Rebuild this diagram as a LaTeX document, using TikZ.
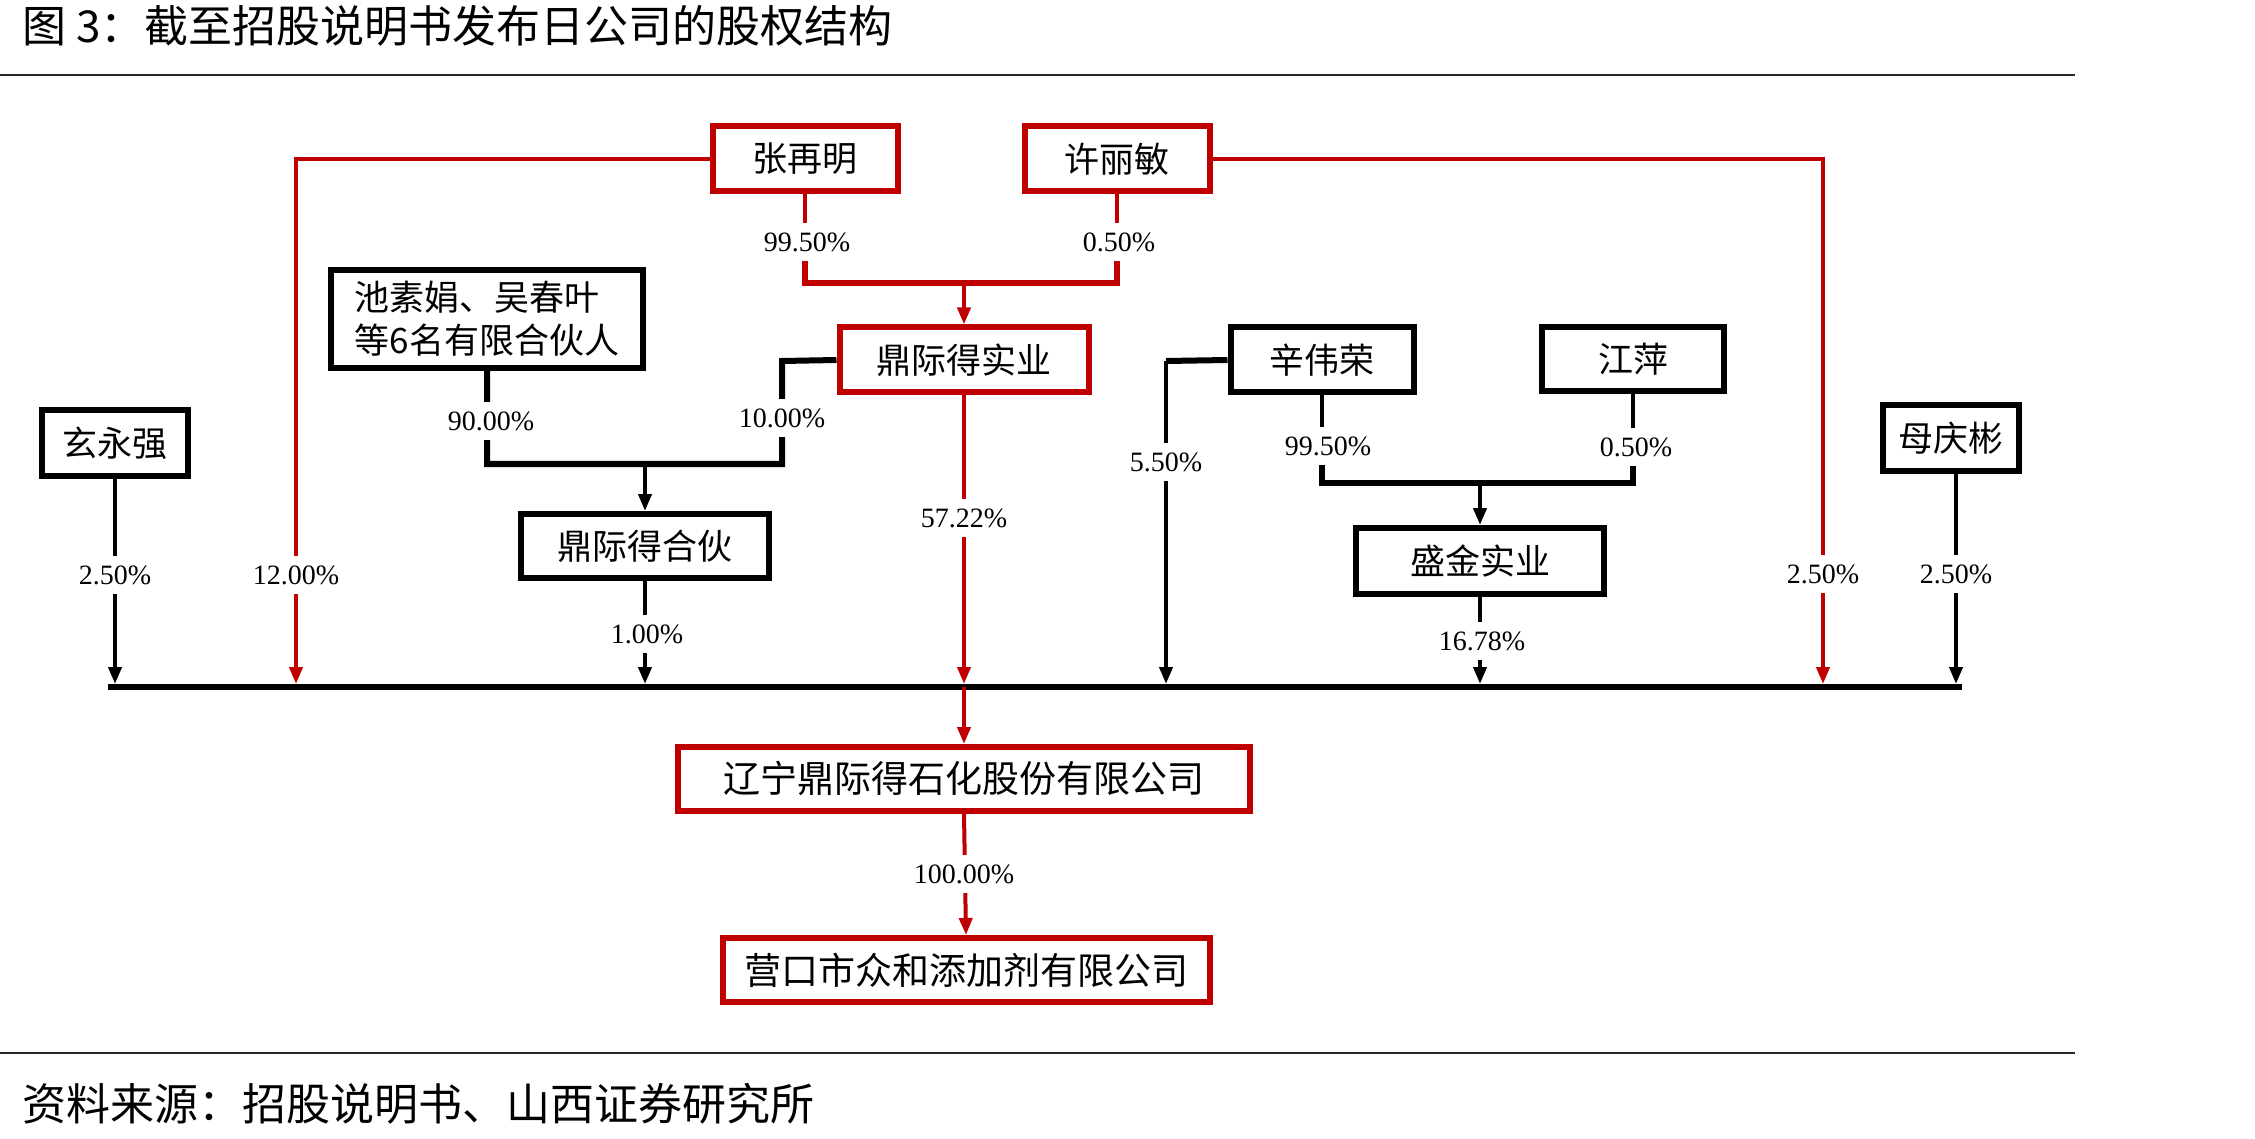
\documentclass[tikz,border=0pt]{standalone}
\usepackage{fontspec}
\setmainfont{Liberation Serif}
\newfontfamily\cjk{Noto Sans CJK SC}
\usetikzlibrary{arrows.meta}
\definecolor{myred}{RGB}{192,0,0}
\begin{document}
\begin{tikzpicture}[x=1pt,y=-1pt,
  box/.style={draw=black,line width=6pt,inner sep=0pt,font=\cjk\fontsize{35}{43}\selectfont},
  redbox/.style={box,draw=myred},
  thin/.style={line width=4pt,black},
  thick/.style={line width=6pt,black},
  redthin/.style={line width=4pt,myred},
  redthick/.style={line width=6pt,myred},
  arr/.style={-{Triangle[length=17pt,width=13pt]}},
  pct/.style={fill=white,inner xsep=4pt,inner ysep=9pt,font=\fontsize{28}{30}\selectfont},
  ttl/.style={anchor=west,inner sep=0pt,font=\cjk\fontsize{44}{50}\selectfont}]
\useasboundingbox (0,0) rectangle (2255,1139);
% title and rules
\node[ttl] (title) at (22,26) {图 3：截至招股说明书发布日公司的股权结构};
\node[ttl] (src) at (22,1104) {资料来源：招股说明书、山西证券研究所};
\coordinate (r1a) at (0,75); \coordinate (r1b) at (2075,75);
\coordinate (r2a) at (0,1053); \coordinate (r2b) at (2075,1053);
\draw[line width=2.5pt,black!85] (r1a) -- (r1b);
\draw[line width=2.5pt,black!85] (r2a) -- (r2b);
% boxes
\node[redbox,minimum width=185pt,minimum height=65pt] (zhang) at (805,159) {张再明};
\node[redbox,minimum width=185pt,minimum height=65pt] (xu) at (1117,159) {许丽敏};
\node[box,minimum width=312pt,minimum height=98pt,align=left] (chi) at (487,319) {池素娟、吴春叶\\等6名有限合伙人};
\node[redbox,minimum width=249pt,minimum height=65pt] (shiye) at (964,360) {鼎际得实业};
\node[box,minimum width=183pt,minimum height=65pt] (xin) at (1322,360) {辛伟荣};
\node[box,minimum width=182pt,minimum height=64pt] (jiang) at (1633,359) {江萍};
\node[box,minimum width=146pt,minimum height=66pt] (xuan) at (115,443) {玄永强};
\node[box,minimum width=136pt,minimum height=65pt] (mu) at (1951,438) {母庆彬};
\node[box,minimum width=248pt,minimum height=64pt] (hehuo) at (645,546) {鼎际得合伙};
\node[box,minimum width=248pt,minimum height=66pt] (sheng) at (1480,561) {盛金实业};
\node[redbox,minimum width=572pt,minimum height=64pt,font=\cjk\fontsize{37}{43}\selectfont] (ln) at (964,779) {辽宁鼎际得石化股份有限公司};
\node[redbox,minimum width=487pt,minimum height=64pt,font=\cjk\fontsize{37}{43}\selectfont] (yk) at (966,970) {营口市众和添加剂有限公司};
% coordinates
\coordinate (busL) at (108,687); \coordinate (busR) at (1962,687);
\coordinate (zl) at (296,159); \coordinate (zlb) at (296,684);
\coordinate (xr) at (1823,159); \coordinate (xrb) at (1823,684);
\coordinate (xuanb) at (115,684);
\coordinate (mub) at (1956,684); \coordinate (mut) at (1956,471);
\coordinate (zb) at (805,283); \coordinate (xb) at (1117,283); \coordinate (zj) at (964,283);
\coordinate (sw) at (782,361); \coordinate (swb) at (782,464);
\coordinate (cb) at (487,464); \coordinate (cj) at (645,464);
\coordinate (hb) at (645,684);
\coordinate (sb) at (964,684); \coordinate (bj) at (964,687);
\coordinate (xw) at (1166,361); \coordinate (xwb) at (1166,684);
\coordinate (xinb) at (1322,483); \coordinate (jb) at (1633,483); \coordinate (sj) at (1480,483);
\coordinate (shb) at (1480,684);
% connectors
\draw[thick] (busL) -- (busR);
\draw[redthin,arr] (zhang.west) -- (zl) -- (zlb);
\draw[redthin,arr] (xu.east) -- (xr) -- (xrb);
\draw[thin,arr] (xuan.south) -- (xuanb);
\draw[thin,arr] (mut) -- (mub);
\draw[redthin] (zhang.south) -- (zb);
\draw[redthin] (xu.south) -- (xb);
\draw[redthick] (805,258) -- (zb) -- (xb) -- (1117,258);
\draw[redthin,arr] (zj) -- (shiye.north);
\draw[thick] (shiye.west) -- (sw) -- (swb) -- (cb) -- (chi.south);
\draw[thin,arr] (cj) -- (hehuo.north);
\draw[thin,arr] (hehuo.south) -- (hb);
\draw[redthin,arr] (shiye.south) -- (sb);
\draw[thick] (xin.west) -- (xw);
\draw[thin,arr] (xw) -- (xwb);
\draw[thin] (xin.south) -- (xinb);
\draw[thin] (jiang.south) -- (jb);
\draw[thick] (1322,462) -- (xinb) -- (jb) -- (1633,462);
\draw[thin,arr] (sj) -- (sheng.north);
\draw[thin,arr] (sheng.south) -- (shb);
\draw[redthin,arr] (bj) -- (ln.north);
\draw[redthin,arr] (ln.south) -- (yk.north);
% labels
\node[pct] (l1) at (296,575) {12.00\%};
\node[pct] (l2) at (1823,574) {2.50\%};
\node[pct] (l3) at (115,575) {2.50\%};
\node[pct] (l4) at (1956,574) {2.50\%};
\node[pct] (l5) at (807,242) {99.50\%};
\node[pct] (l6) at (1119,242) {0.50\%};
\node[pct] (l7) at (782,418) {10.00\%};
\node[pct] (l8) at (491,421) {90.00\%};
\node[pct] (l9) at (647,634) {1.00\%};
\node[pct] (l10) at (964,518) {57.22\%};
\node[pct] (l11) at (1166,462) {5.50\%};
\node[pct] (l12) at (1328,446) {99.50\%};
\node[pct] (l13) at (1636,447) {0.50\%};
\node[pct] (l14) at (1482,641) {16.78\%};
\node[pct] (l15) at (964,874) {100.00\%};
\end{tikzpicture}
\end{document}
